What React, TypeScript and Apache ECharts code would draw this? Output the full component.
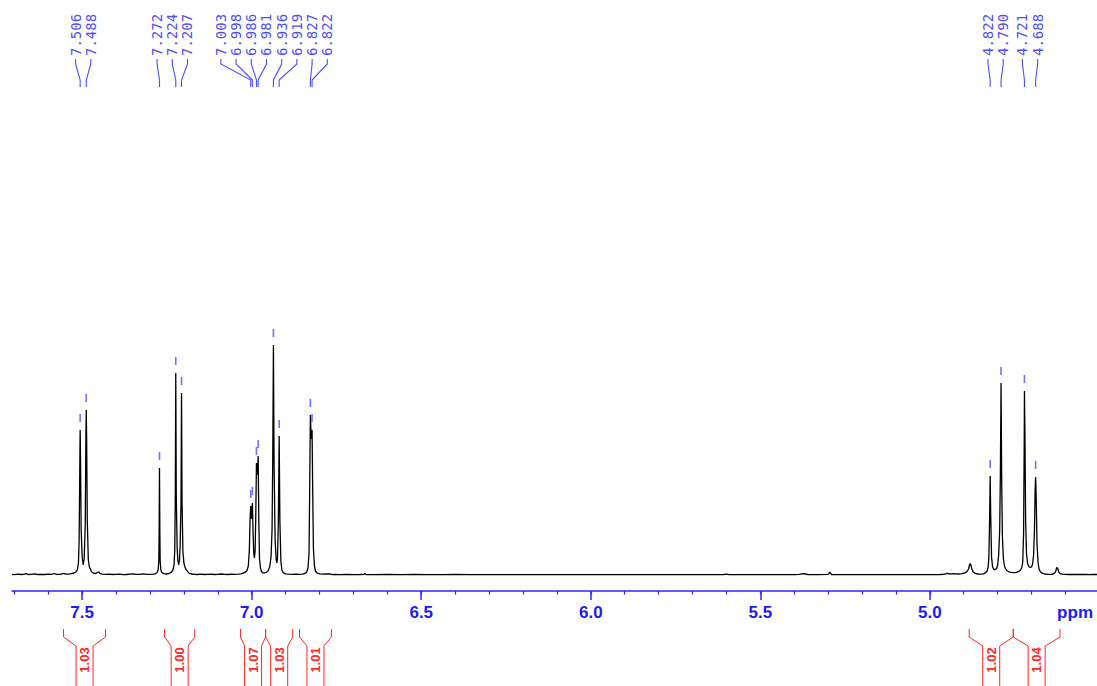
import React, { useEffect, useRef } from "react";
import * as echarts from "echarts";

// ---------- data ----------
const X_MIN = 4.507;
const X_MAX = 7.707;
const MAJOR_TICKS = [7.5, 7.0, 6.5, 6.0, 5.5, 5.0];
const MINOR_TICKS = [
  7.7, 7.6, 7.5, 7.4, 7.3, 7.2, 7.1, 7.0, 6.9, 6.8, 6.7, 6.6, 6.5, 6.4, 6.3, 6.2,
  6.1, 6.0, 5.9, 5.8, 5.7, 5.6, 5.5, 5.4, 5.3, 5.2, 5.1, 5.0, 4.9, 4.8, 4.7, 4.6,
];

// picked peaks (ppm) and their heights (relative intensity)
const PEAK_PPM = [
  7.506, 7.488, 7.272, 7.224, 7.207, 7.003, 6.998, 6.986, 6.981, 6.936, 6.919,
  6.827, 6.822, 4.822, 4.79, 4.721, 4.688,
];
const PEAK_HEIGHT = [
  145, 165, 107, 202, 182, 69, 72, 112, 119, 230, 139, 160, 145, 99, 192, 184, 98,
];

// integrals
const INT_START = [7.555, 7.257, 7.033, 6.959, 6.859, 4.884, 4.754];
const INT_END = [7.431, 7.168, 6.959, 6.879, 6.765, 4.754, 4.616];
const INT_VALUE = ["1.03", "1.00", "1.07", "1.03", "1.01", "1.02", "1.04"];

// spectrum trace [ppm, intensity]
const SPECTRUM: [number, number][] = [
  [7.707, 0.6], [7.7, 0.4], [7.69, 0.8], [7.68, 0.5], [7.672, 0.6], [7.665, 1.4],
  [7.66, 0.5], [7.65, 0.6], [7.64, 1.2], [7.632, 0.5], [7.62, 0.7], [7.61, 0.5],
  [7.6, 0.9], [7.59, 0.6], [7.582, 1.5], [7.576, 0.6], [7.565, 0.7], [7.555, 1.6],
  [7.548, 0.8], [7.54, 0.9], [7.532, 1.3], [7.524, 2.0], [7.518, 3.2], [7.514, 5.5],
  [7.511, 12], [7.509, 35], [7.507, 110], [7.506, 145], [7.505, 120], [7.503, 45],
  [7.5, 18], [7.497, 10], [7.494, 17], [7.491, 50], [7.489, 140], [7.488, 165],
  [7.487, 140], [7.485, 55], [7.482, 16], [7.479, 8], [7.476, 6], [7.472, 3],
  [7.466, 1.8], [7.46, 1.5], [7.455, 2.6], [7.451, 3.0], [7.447, 1.4], [7.44, 0.8],
  [7.43, 0.6], [7.42, 0.9], [7.41, 0.5], [7.4, 0.6], [7.39, 0.8], [7.38, 0.4],
  [7.37, 0.5], [7.36, 0.9], [7.35, 1.2], [7.342, 0.7], [7.33, 0.6], [7.32, 1.1],
  [7.31, 0.6], [7.3, 0.7], [7.29, 0.9], [7.283, 1.4], [7.279, 2.5], [7.276, 5],
  [7.274, 14], [7.273, 45], [7.272, 107], [7.271, 45], [7.27, 14], [7.268, 5],
  [7.265, 2.5], [7.26, 1.4], [7.252, 1.0], [7.244, 1.5], [7.238, 2.5], [7.233, 4.5],
  [7.229, 10], [7.227, 25], [7.2255, 70], [7.224, 202], [7.2225, 80], [7.22, 28],
  [7.218, 15], [7.2155, 10], [7.213, 15], [7.211, 30], [7.2085, 75], [7.207, 182],
  [7.2055, 75], [7.203, 24], [7.2, 12], [7.197, 8], [7.194, 5.5], [7.191, 4.5],
  [7.188, 3.0], [7.184, 1.6], [7.176, 1.0], [7.168, 0.7], [7.16, 0.5], [7.15, 0.8],
  [7.14, 0.5], [7.13, 0.6], [7.12, 0.9], [7.11, 0.5], [7.1, 0.6], [7.09, 1.0],
  [7.08, 0.6], [7.07, 0.5], [7.06, 0.8], [7.05, 0.6], [7.04, 0.9], [7.032, 1.2],
  [7.025, 1.8], [7.019, 2.8], [7.014, 4.5], [7.01, 9], [7.007, 25], [7.005, 55],
  [7.003, 69], [7.0005, 56], [6.998, 72], [6.996, 42], [6.994, 22], [6.992, 17],
  [6.99, 24], [6.988, 60], [6.986, 112], [6.9835, 100], [6.981, 119], [6.979, 52],
  [6.977, 16], [6.974, 6.5], [6.971, 3.5], [6.967, 2.2], [6.962, 2.0], [6.957, 2.6],
  [6.952, 4], [6.947, 8], [6.943, 18], [6.94, 45], [6.938, 115], [6.936, 230],
  [6.934, 110], [6.931, 35], [6.928, 16], [6.926, 12], [6.924, 16], [6.9215, 52],
  [6.919, 139], [6.917, 55], [6.914, 14], [6.911, 5], [6.907, 2.2], [6.9, 1.2],
  [6.89, 0.8], [6.88, 0.6], [6.87, 0.9], [6.86, 0.6], [6.85, 0.9], [6.843, 1.5],
  [6.838, 3.0], [6.834, 7], [6.831, 22], [6.829, 85], [6.827, 160], [6.8245, 136],
  [6.822, 145], [6.82, 80], [6.818, 26], [6.815, 9], [6.812, 4], [6.808, 2.2],
  [6.8, 1.2], [6.79, 0.8], [6.78, 1.0], [6.77, 1.2], [6.762, 0.3], [6.755, 0.5],
  [6.74, 0.4], [6.72, 0.5], [6.7, 0.4], [6.68, 0.5], [6.669, 0.6], [6.666, 1.6],
  [6.663, 0.5], [6.64, 0.4], [6.6, 0.5], [6.56, 0.3], [6.52, 0.5], [6.48, 0.4],
  [6.44, 0.3], [6.4, 0.5], [6.35, 0.4], [6.3, 0.3], [6.25, 0.4], [6.2, 0.3],
  [6.15, 0.4], [6.1, 0.3], [6.05, 0.4], [6.0, 0.3], [5.95, 0.4], [5.9, 0.3],
  [5.85, 0.4], [5.8, 0.3], [5.75, 0.4], [5.7, 0.3], [5.65, 0.4], [5.61, 0.4],
  [5.6, 0.9], [5.592, 0.4], [5.55, 0.3], [5.5, 0.4], [5.45, 0.3], [5.4, 0.4],
  [5.385, 0.6], [5.378, 1.2], [5.372, 1.4], [5.366, 1.0], [5.36, 0.5], [5.33, 0.4],
  [5.3, 0.6], [5.297, 1.8], [5.295, 3.0], [5.293, 1.8], [5.29, 0.5], [5.25, 0.3],
  [5.2, 0.4], [5.15, 0.3], [5.1, 0.4], [5.05, 0.3], [5.0, 0.4], [4.97, 0.5],
  [4.96, 0.6], [4.952, 1.2], [4.948, 1.8], [4.944, 1.0], [4.938, 1.2], [4.93, 1.3],
  [4.922, 1.1], [4.915, 1.0], [4.905, 1.4], [4.897, 2.0], [4.89, 3.5], [4.886, 6],
  [4.883, 10], [4.881, 11.5], [4.879, 10], [4.876, 6], [4.872, 3], [4.866, 1.6],
  [4.858, 1.0], [4.85, 0.8], [4.842, 1.2], [4.836, 2.2], [4.831, 4], [4.828, 8],
  [4.826, 18], [4.824, 50], [4.822, 99], [4.8205, 60], [4.818, 18], [4.815, 8],
  [4.811, 5.5], [4.807, 5.5], [4.803, 6.5], [4.8, 10], [4.797, 20], [4.794, 45],
  [4.792, 100], [4.79, 192], [4.788, 90], [4.786, 38], [4.783, 16], [4.78, 9],
  [4.777, 6.5], [4.773, 4.5], [4.767, 3.2], [4.76, 2.6], [4.752, 2.4], [4.745, 2.6],
  [4.738, 3.4], [4.733, 4.8], [4.729, 7], [4.726, 13], [4.7235, 42], [4.7215, 140],
  [4.721, 184], [4.7195, 140], [4.7175, 55], [4.715, 22], [4.712, 12], [4.708, 8.5],
  [4.704, 7.5], [4.7, 8], [4.697, 11], [4.694, 20], [4.6915, 45], [4.6895, 85],
  [4.688, 98], [4.6865, 80], [4.684, 32], [4.681, 13], [4.678, 6], [4.674, 3.2],
  [4.669, 1.8], [4.662, 1.0], [4.652, 0.7], [4.642, 0.6], [4.636, 1.0], [4.631, 2.2],
  [4.628, 4.5], [4.626, 7.5], [4.625, 8], [4.623, 6.5], [4.62, 3.2], [4.616, 1.4],
  [4.61, 0.8], [4.6, 0.6], [4.59, 0.5], [4.58, 0.7], [4.57, 0.5], [4.56, 0.6],
  [4.55, 0.5], [4.54, 0.6], [4.53, 0.4], [4.52, 0.6], [4.507, 0.5],
];

// ---------- styles ----------
const AXIS_BLUE = "#2626ff";
const LABEL_BLUE = "#4d4dff";
const INT_RED = "#ff2626";

function spreadLabels(xs: number[], gap: number): number[] {
  type G = { start: number; n: number; sum: number };
  let groups: G[] = xs.map((x) => ({ start: x, n: 1, sum: x }));
  let changed = true;
  while (changed) {
    changed = false;
    for (let i = 0; i < groups.length - 1; i++) {
      const a = groups[i];
      const b = groups[i + 1];
      const aEnd = a.start + (a.n - 1) * gap;
      if (b.start - aEnd < gap) {
        const n = a.n + b.n;
        const sum = a.sum + b.sum;
        const start = sum / n - ((n - 1) * gap) / 2;
        groups.splice(i, 2, { start, n, sum });
        changed = true;
        break;
      }
    }
  }
  const out: number[] = [];
  groups.forEach((g) => {
    for (let k = 0; k < g.n; k++) out.push(g.start + k * gap);
  });
  return out;
}

export default function App() {
  const ref = useRef<HTMLDivElement>(null);

  useEffect(() => {
    document.body.style.margin = "0";
    if (!ref.current) return;
    const chart = echarts.init(ref.current, undefined, { renderer: "svg" });

    const peakLabelSeries = {
      type: "custom",
      coordinateSystem: "cartesian2d",
      xAxisIndex: 0,
      yAxisIndex: 0,
      clip: false,
      silent: true,
      z: 5,
      data: [[6.0, 0]],
      renderItem: (_params: any, api: any) => {
        const xs = PEAK_PPM.map((p) => api.coord([p, 0])[0]);
        const lx = spreadLabels(xs, 15.2);
        const children: any[] = [];
        xs.forEach((px, i) => {
          children.push({
            type: "polyline",
            shape: {
              points: [
                [lx[i], 59],
                [lx[i], 64],
                [px, 80],
                [px, 87],
              ],
            },
            style: { stroke: LABEL_BLUE, lineWidth: 1.1, fill: "none" },
          });
          children.push({
            type: "text",
            x: lx[i],
            y: 56,
            rotation: Math.PI / 2,
            style: {
              text: PEAK_PPM[i].toFixed(3),
              fill: LABEL_BLUE,
              font: '14px "DejaVu Sans Mono", monospace',
              align: "left",
              verticalAlign: "middle",
              textAlign: "left",
              textVerticalAlign: "middle",
            },
          });
        });
        return { type: "group", children };
      },
    };

    const integralSeries = {
      type: "custom",
      coordinateSystem: "cartesian2d",
      xAxisIndex: 0,
      yAxisIndex: 0,
      clip: false,
      silent: true,
      z: 5,
      data: [[6.0, 0]],
      renderItem: (_params: any, api: any) => {
        const children: any[] = [];
        INT_START.forEach((s, i) => {
          const xl = api.coord([s, 0])[0];
          const xr = api.coord([INT_END[i], 0])[0];
          const c = (xl + xr) / 2;
          const il = Math.max(c - 8.5, xl + 2);
          const ir = Math.min(c + 8.5, xr - 2);
          children.push({
            type: "polyline",
            shape: { points: [[xl, 629], [xl, 637], [il, 646], [il, 690]] },
            style: { stroke: INT_RED, lineWidth: 1, fill: "none" },
          });
          children.push({
            type: "polyline",
            shape: { points: [[xr, 629], [xr, 637], [ir, 646], [ir, 690]] },
            style: { stroke: INT_RED, lineWidth: 1, fill: "none" },
          });
          children.push({
            type: "text",
            x: c,
            y: 660,
            rotation: Math.PI / 2,
            style: {
              text: INT_VALUE[i],
              fill: INT_RED,
              font: 'bold 13px "Liberation Sans", Arial, sans-serif',
              align: "center",
              verticalAlign: "middle",
              textAlign: "center",
              textVerticalAlign: "middle",
            },
          });
        });
        return { type: "group", children };
      },
    };

    chart.setOption({
      animation: false,
      backgroundColor: "#ffffff",
      grid: { left: 12, right: 0, top: 275, bottom: 95, containLabel: false },
      xAxis: [
        {
          type: "value",
          min: X_MIN,
          max: X_MAX,
          inverse: true,
          position: "bottom",
          axisLine: {
            show: true,
            onZero: false,
            lineStyle: { color: AXIS_BLUE, width: 1.5 },
          },
          axisTick: {
            show: true,
            customValues: MAJOR_TICKS,
            length: 9,
            lineStyle: { color: AXIS_BLUE, width: 1.5 },
          },
          axisLabel: {
            show: true,
            customValues: MAJOR_TICKS,
            formatter: (v: number) => v.toFixed(1),
            color: "#1a1aff",
            fontWeight: "bold",
            fontSize: 17,
            fontFamily: '"Liberation Sans", Arial, sans-serif',
            margin: 13,
          },
          splitLine: { show: false },
        },
        {
          type: "value",
          min: X_MIN,
          max: X_MAX,
          inverse: true,
          position: "bottom",
          offset: 0,
          axisLine: { show: false, onZero: false },
          axisTick: {
            show: true,
            customValues: MINOR_TICKS,
            length: 3.5,
            lineStyle: { color: AXIS_BLUE, width: 1.2 },
          },
          axisLabel: { show: false },
          splitLine: { show: false },
        },
      ],
      yAxis: { type: "value", min: -16, max: 300, show: false },
      graphic: [
        {
          type: "text",
          right: 4,
          top: 604,
          style: {
            text: "ppm",
            fill: "#1a1aff",
            font: 'bold 17px "Liberation Sans", Arial, sans-serif',
          },
        },
      ],
      series: [
        {
          type: "line",
          data: SPECTRUM,
          xAxisIndex: 0,
          yAxisIndex: 0,
          showSymbol: false,
          symbol: "none",
          lineStyle: { color: "#000000", width: 1.3 },
          silent: true,
          z: 3,
        },
        {
          type: "scatter",
          data: PEAK_PPM.map((p, i) => [p, PEAK_HEIGHT[i]]),
          xAxisIndex: 0,
          yAxisIndex: 0,
          symbol: "rect",
          symbolSize: [1.6, 8],
          symbolOffset: [0, -12],
          itemStyle: { color: LABEL_BLUE },
          silent: true,
          z: 4,
        },
        peakLabelSeries,
        integralSeries,
      ],
    });

    return () => chart.dispose();
  }, []);

  return <div ref={ref} style={{ width: 1097, height: 686 }} />;
}
